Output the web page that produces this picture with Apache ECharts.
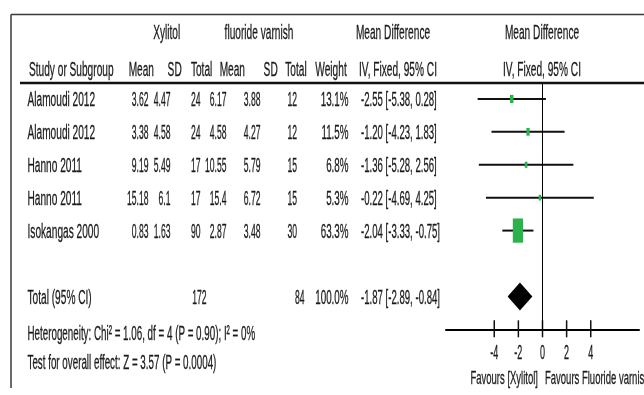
<!DOCTYPE html>
<html>
<head>
<meta charset="utf-8">
<script src="https://cdn.jsdelivr.net/npm/echarts@6/dist/echarts.min.js"></script>
<style>
  html, body { margin: 0; padding: 0; background: #fff; }
  #chart { width: 644px; height: 395px; }
</style>
</head>
<body>
<div id="chart"></div>
<script>
// Study-level data: xylitol vs fluoride varnish
const studies       = ['Alamoudi 2012', 'Alamoudi 2012', 'Hanno 2011', 'Hanno 2011', 'Isokangas 2000'];
const xylitolMean   = [3.62, 3.38, 9.19, 15.18, 0.83];
const xylitolSD     = [4.47, 4.58, 5.49, 6.1, 1.63];
const xylitolTotal  = [24, 24, 17, 17, 90];
const varnishMean   = [6.17, 4.58, 10.55, 15.4, 2.87];
const varnishSD     = [3.88, 4.27, 5.79, 6.72, 3.48];
const varnishTotal  = [12, 12, 15, 15, 30];
const weights       = [13.1, 11.5, 6.8, 5.3, 63.3];
const meanDiff      = [-2.55, -1.20, -1.36, -0.22, -2.04];
const ciLower       = [-5.38, -4.23, -5.28, -4.69, -3.33];
const ciUpper       = [0.28, 1.83, 2.56, 4.25, -0.75];

// Pooled (fixed-effect) result
const pooledXylitolTotal = 172;
const pooledVarnishTotal = 84;
const pooledWeight = 100.0;
const pooledMD = -1.87;
const pooledLower = -2.89;
const pooledUpper = -0.84;

const axisTicks = [-4, -2, 0, 2, 4];
const heterogeneityText = 'Heterogeneity: Chi\u00b2 = 1.06, df = 4 (P = 0.90); I\u00b2 = 0%';
const overallEffectText = 'Test for overall effect: Z = 3.57 (P = 0.0004)';

const FONT = '"Liberation Sans", Arial, sans-serif';
const FONT_SIZE = 20;
const SQUEEZE = 0.507;      // condensed look for words
const SQUEEZE_NUM = 0.43;   // narrower figures in the numeric columns
const INK = '#1a1a1a';

function label(x, y, text, align, size, squeeze) {
  return {
    type: 'text', x: x, y: y, scaleX: squeeze || SQUEEZE, silent: true,
    style: {
      text: text, x: 0, y: 0,
      font: (size || FONT_SIZE) + 'px ' + FONT,
      fill: INK, stroke: INK, lineWidth: 0.3,
      align: align, textAlign: align,
      verticalAlign: 'middle', textVerticalAlign: 'middle'
    }
  };
}

const fmt2 = v => v.toFixed(2);
const ciText = (m, lo, hi) => fmt2(m) + ' [' + fmt2(lo) + ', ' + fmt2(hi) + ']';

const totalRow = studies.length + 1;

// Rows of the table, built from the arrays above
const tableRows = studies.map((name, i) => ({
  row: i,
  cells: [
    name, String(xylitolMean[i]), String(xylitolSD[i]), String(xylitolTotal[i]),
    String(varnishMean[i]), String(varnishSD[i]), String(varnishTotal[i]),
    weights[i].toFixed(1) + '%', ciText(meanDiff[i], ciLower[i], ciUpper[i])
  ]
}));
tableRows.push({
  row: totalRow,
  total: true,
  cells: [
    'Total (95% CI)', '', '', String(pooledXylitolTotal), '', '', String(pooledVarnishTotal),
    pooledWeight.toFixed(1) + '%', ciText(pooledMD, pooledLower, pooledUpper)
  ]
});

// Column anchors of the table: x, alignment, horizontal squeeze
const columns = [
  [27.5, 'left', SQUEEZE], [148.5, 'right', SQUEEZE_NUM], [170.5, 'right', SQUEEZE_NUM],
  [200.5, 'right', SQUEEZE_NUM], [226.5, 'right', SQUEEZE_NUM], [260.5, 'right', SQUEEZE_NUM],
  [297, 'right', SQUEEZE_NUM], [348.5, 'right', 0.49], [361, 'left', 0.48]
];
const totalColumns = { 3: 206.5, 6: 304.5 };

const chart = echarts.init(document.getElementById('chart'), null, { renderer: 'canvas' });

chart.setOption({
  backgroundColor: '#fff',
  animation: false,
  grid: { left: 446, right: 5, top: 82.5, bottom: 65.7 },
  xAxis: {
    type: 'value', min: -8, max: 8,
    axisLine: { show: true, onZero: false, lineStyle: { color: '#000', width: 2 } },
    axisTick: { show: false }, axisLabel: { show: false }, splitLine: { show: false }
  },
  yAxis: {
    type: 'value', min: -0.5, max: 7, inverse: true, show: false
  },
  graphic: {
    elements: [
      { type: 'line', silent: true, shape: { x1: 11, y1: 14.5, x2: 644, y2: 14.5 }, style: { stroke: '#3a3a3a', lineWidth: 1.5 } },
      { type: 'line', silent: true, shape: { x1: 11, y1: 14.5, x2: 11, y2: 388 }, style: { stroke: '#3a3a3a', lineWidth: 1.5 } },
      { type: 'line', silent: true, shape: { x1: 20, y1: 83, x2: 644, y2: 83 }, style: { stroke: '#111', lineWidth: 2.5 } },
      label(166.7, 33, 'Xylitol', 'center'),
      label(259, 33, 'fluoride varnish', 'center'),
      label(393, 33, 'Mean Difference', 'center'),
      label(542, 33, 'Mean Difference', 'center'),
      label(29, 70, 'Study or Subgroup', 'left'),
      label(154, 70, 'Mean', 'right'),
      label(181.7, 70, 'SD', 'right'),
      label(212.3, 70, 'Total', 'right'),
      label(245, 70, 'Mean', 'right'),
      label(277.7, 70, 'SD', 'right'),
      label(306.7, 70, 'Total', 'right'),
      label(346.7, 70, 'Weight', 'right'),
      label(398, 70, 'IV, Fixed, 95% CI', 'center'),
      label(542, 70, 'IV, Fixed, 95% CI', 'center'),
      label(27.5, 334, heterogeneityText, 'left', FONT_SIZE, 0.49),
      label(27.5, 363, overallEffectText, 'left', FONT_SIZE, 0.49),
      label(538, 379, 'Favours [Xylitol]', 'right', 19, 0.5),
      label(545, 379, 'Favours Fluoride varnish', 'left', 19, 0.5)
    ]
  },
  series: [
    {
      // table text, one data item per row
      name: 'table',
      type: 'custom',
      silent: true,
      data: tableRows.map(r => [0, r.row]),
      encode: { x: 0, y: 1 },
      renderItem: function (params, api) {
        const r = tableRows[params.dataIndex];
        const y = api.coord([0, api.value(1)])[1] + 2;
        const children = [];
        r.cells.forEach((t, c) => {
          if (!t) return;
          let x = columns[c][0];
          if (r.total && totalColumns[c] !== undefined) x = totalColumns[c];
          children.push(label(x, y, t, columns[c][1], FONT_SIZE, columns[c][2]));
        });
        return { type: 'group', children: children };
      }
    },
    {
      // individual studies: CI whisker + weighted square
      name: 'studies',
      type: 'custom',
      data: studies.map((s, i) => [meanDiff[i], i, ciLower[i], ciUpper[i], weights[i]]),
      encode: { x: [0, 2, 3], y: 1 },
      renderItem: function (params, api) {
        const row = api.value(1);
        const c = api.coord([api.value(0), row]);
        const lo = api.coord([api.value(2), row]);
        const hi = api.coord([api.value(3), row]);
        const h = 4 + 0.32 * api.value(4);
        const w = h * 0.42;
        return {
          type: 'group',
          children: [
            { type: 'line', shape: { x1: lo[0], y1: c[1], x2: hi[0], y2: c[1] }, style: { stroke: '#111', lineWidth: 2 } },
            { type: 'rect', shape: { x: c[0] - w / 2, y: c[1] - h / 2, width: w, height: h }, style: { fill: '#2bb24c' } }
          ]
        };
      },
      markLine: {
        silent: true, symbol: 'none',
        label: { show: false },
        lineStyle: { color: '#000', width: 1, type: 'solid' },
        data: [{ xAxis: 0 }]
      }
    },
    {
      // pooled estimate diamond
      name: 'pooled',
      type: 'custom',
      data: [[pooledMD, totalRow, pooledLower, pooledUpper]],
      encode: { x: [0, 2, 3], y: 1 },
      renderItem: function (params, api) {
        const row = api.value(1);
        const c = api.coord([api.value(0), row]);
        const lo = api.coord([api.value(2), row]);
        const hi = api.coord([api.value(3), row]);
        return {
          type: 'polygon',
          shape: { points: [[lo[0], c[1]], [c[0], c[1] - 14], [hi[0], c[1]], [c[0], c[1] + 14]] },
          style: { fill: '#000' }
        };
      }
    },
    {
      // axis ticks crossing the axis line, with their labels
      name: 'ticks',
      type: 'custom',
      silent: true,
      data: axisTicks.map(v => [v, 7]),
      encode: { x: 0, y: 1 },
      renderItem: function (params, api) {
        const p = api.coord([api.value(0), api.value(1)]);
        return {
          type: 'group',
          children: [
            { type: 'line', shape: { x1: p[0], y1: p[1] - 9, x2: p[0], y2: p[1] + 8 }, style: { stroke: '#111', lineWidth: 1.5 } },
            label(p[0], p[1] + 24, String(api.value(0)), 'center', FONT_SIZE, 0.45)
          ]
        };
      }
    }
  ]
});
</script>
</body>
</html>
